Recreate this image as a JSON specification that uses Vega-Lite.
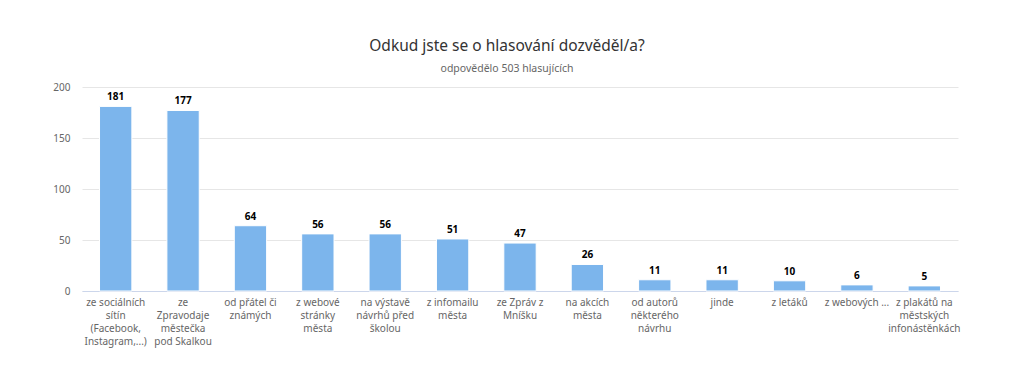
{
  "$schema": "https://vega.github.io/schema/vega-lite/v6.json",
  "autosize": {"type": "none"},
  "width": 876,
  "height": 204,
  "padding": {"left": 82, "top": 87, "right": 66, "bottom": 87},
  "background": "white",
  "config": {
    "font": "Noto Sans",
    "view": {"stroke": null}
  },
  "title": {
    "text": "Odkud jste se o hlasování dozvěděl/a?",
    "subtitle": "odpovědělo 503 hlasujících",
    "anchor": "middle",
    "dx": -13,
    "offset": 8,
    "fontSize": 15.5,
    "fontWeight": "normal",
    "color": "#333333",
    "subtitleFontSize": 10.5,
    "subtitleColor": "#666666",
    "subtitlePadding": 9
  },
  "data": {
    "values": [
      {"zdroj": "ze sociálních|sítín|(Facebook,|Instagram,...)", "pocet": 181},
      {"zdroj": "ze|Zpravodaje|městečka|pod Skalkou", "pocet": 177},
      {"zdroj": "od přátel či|známých", "pocet": 64},
      {"zdroj": "z webové|stránky|města", "pocet": 56},
      {"zdroj": "na výstavě|návrhů před|školou", "pocet": 56},
      {"zdroj": "z infomailu|města", "pocet": 51},
      {"zdroj": "ze Zpráv z|Mníšku", "pocet": 47},
      {"zdroj": "na akcích|města", "pocet": 26},
      {"zdroj": "od autorů|některého|návrhu", "pocet": 11},
      {"zdroj": "jinde", "pocet": 11},
      {"zdroj": "z letáků", "pocet": 10},
      {"zdroj": "z webových ...", "pocet": 6},
      {"zdroj": "z plakátů na|městských|infonástěnkách", "pocet": 5}
    ]
  },
  "encoding": {
    "x": {
      "field": "zdroj",
      "type": "nominal",
      "sort": null,
      "title": null,
      "scale": {"paddingInner": 0.52, "paddingOuter": 0.26},
      "axis": {
        "labelAngle": 0,
        "labelExpr": "split(datum.label, '|')",
        "labelFontSize": 10,
        "labelColor": "#666666",
        "labelLineHeight": 13,
        "labelPadding": 6,
        "labelLimit": 0,
        "labelOverlap": false,
        "ticks": false,
        "domainColor": "#ccd6eb",
        "grid": false
      }
    },
    "y": {
      "field": "pocet",
      "type": "quantitative",
      "title": null,
      "scale": {"domain": [0, 200]},
      "axis": {
        "values": [0, 50, 100, 150, 200],
        "labelFontSize": 10,
        "labelColor": "#666666",
        "labelPadding": 12,
        "ticks": false,
        "domain": false,
        "gridColor": "#e6e6e6"
      }
    }
  },
  "layer": [
    {"mark": {"type": "bar", "color": "#7cb5ec", "stroke": "white", "strokeWidth": 1}},
    {
      "mark": {"type": "text", "baseline": "bottom", "dy": -4, "fontSize": 10, "fontWeight": "bold", "color": "#000000"},
      "encoding": {"text": {"field": "pocet", "type": "quantitative"}}
    }
  ]
}
